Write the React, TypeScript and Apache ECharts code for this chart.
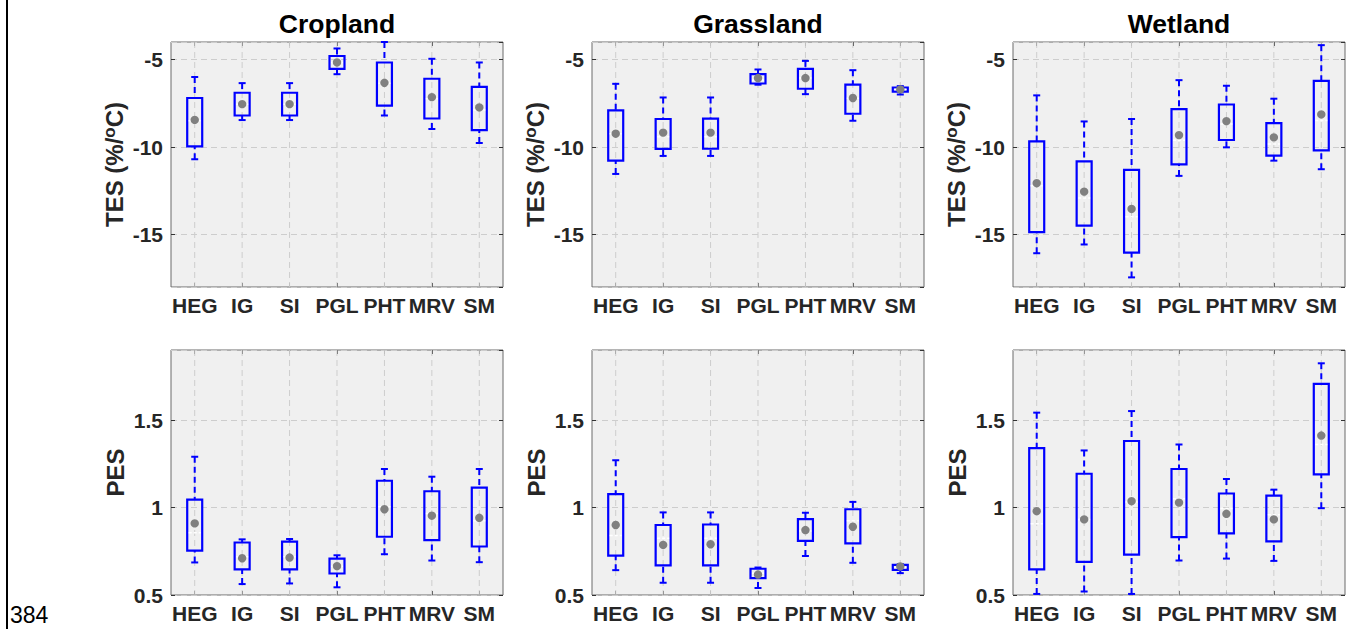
import React, { useEffect, useRef } from 'react';
import * as echarts from 'echarts';

const categories = ['HEG', 'IG', 'SI', 'PGL', 'PHT', 'MRV', 'SM'];
const titles = ['Cropland', 'Grassland', 'Wetland'];

// each row: [min, q1, median, q3, max, mean]
const croplandTES = [
  [-10.7, -9.96, -8.5, -7.2, -6.0, -8.45],
  [-8.46, -8.2, -7.55, -6.9, -6.35, -7.55],
  [-8.46, -8.2, -7.55, -6.9, -6.35, -7.55],
  [-5.84, -5.53, -5.17, -4.8, -4.37, -5.17],
  [-8.2, -7.64, -6.35, -5.17, -4.0, -6.33],
  [-8.97, -8.37, -7.24, -6.1, -4.96, -7.15],
  [-9.77, -9.03, -7.89, -6.56, -5.17, -7.74],
];
const grasslandTES = [
  [-11.54, -10.78, -9.24, -7.91, -6.39, -9.24],
  [-10.51, -10.11, -9.41, -8.4, -7.17, -9.18],
  [-10.51, -10.1, -9.41, -8.38, -7.17, -9.18],
  [-6.44, -6.37, -6.18, -5.84, -5.57, -6.06],
  [-6.98, -6.67, -6.06, -5.53, -5.08, -6.06],
  [-8.5, -8.1, -7.22, -6.44, -5.61, -7.2],
  [-7.0, -6.83, -6.71, -6.6, -6.52, -6.71],
];
const wetlandTES = [
  [-16.07, -14.87, -12.22, -9.68, -7.05, -12.07],
  [-15.57, -14.49, -12.91, -10.82, -8.54, -12.55],
  [-17.45, -16.03, -13.99, -11.31, -8.4, -13.54],
  [-11.65, -10.99, -9.62, -7.83, -6.18, -9.32],
  [-10.02, -9.6, -8.69, -7.57, -6.5, -8.52],
  [-10.78, -10.49, -9.83, -8.63, -7.24, -9.45],
  [-11.27, -10.19, -8.48, -6.22, -4.18, -8.14],
];
const croplandPES = [
  [0.686, 0.754, 0.856, 1.045, 1.29, 0.909],
  [0.5625, 0.646, 0.718, 0.8, 0.818, 0.71],
  [0.566, 0.646, 0.718, 0.805, 0.82, 0.714],
  [0.544, 0.623, 0.665, 0.708, 0.727, 0.665],
  [0.733, 0.833, 1.004, 1.153, 1.22, 0.99],
  [0.697, 0.814, 0.966, 1.093, 1.176, 0.953],
  [0.6875, 0.777, 0.924, 1.114, 1.22, 0.941],
];
const grasslandPES = [
  [0.642, 0.725, 0.84, 1.076, 1.27, 0.9],
  [0.57, 0.669, 0.824, 0.9, 0.972, 0.786],
  [0.57, 0.669, 0.824, 0.903, 0.972, 0.79],
  [0.54, 0.597, 0.625, 0.65, 0.657, 0.617],
  [0.723, 0.809, 0.866, 0.934, 0.97, 0.871],
  [0.684, 0.795, 0.924, 0.99, 1.032, 0.89],
  [0.625, 0.644, 0.657, 0.672, 0.676, 0.663],
];
const wetlandPES = [
  [0.506, 0.646, 0.907, 1.339, 1.542, 0.979],
  [0.52, 0.689, 0.932, 1.193, 1.326, 0.932],
  [0.506, 0.731, 1.032, 1.38, 1.551, 1.036],
  [0.697, 0.831, 1.05, 1.22, 1.36, 1.028],
  [0.708, 0.852, 0.994, 1.08, 1.163, 0.964],
  [0.695, 0.807, 0.958, 1.068, 1.102, 0.932],
  [0.996, 1.189, 1.36, 1.706, 1.824, 1.411],
];

const tesRange = [-18, -4];
const pesRange = [0.5, 1.9];
const pageNumber = '384';

const FONT = '"Liberation Sans", Arial, sans-serif';
const BLUE = '#0000ff';
const GRIDC = '#cdcdcd';
const TXT = '#262626';

const colLeft = [171, 592, 1013];
const rowTop = [42, 350];
const plotW = 332;
const plotH = 245;

const panels = [
  { data: croplandTES, range: tesRange, tes: true },
  { data: grasslandTES, range: tesRange, tes: true },
  { data: wetlandTES, range: tesRange, tes: true },
  { data: croplandPES, range: pesRange, tes: false },
  { data: grasslandPES, range: pesRange, tes: false },
  { data: wetlandPES, range: pesRange, tes: false },
];

function buildOption() {
  const grid: any[] = [];
  const xAxis: any[] = [];
  const yAxis: any[] = [];
  const series: any[] = [];

  panels.forEach((p, k) => {
    const r = Math.floor(k / 3);
    const c = k % 3;
    grid.push({
      left: colLeft[c],
      top: rowTop[r],
      width: plotW,
      height: plotH,
      show: true,
      backgroundColor: '#f0f0f0',
      borderColor: '#6a6a6a',
      borderWidth: 1,
    });
    xAxis.push({
      type: 'category',
      gridIndex: k,
      data: categories,
      position: 'bottom',
      axisLine: { show: false },
      axisTick: { show: true, inside: true, alignWithLabel: true, length: 4, lineStyle: { color: '#333' } },
      axisLabel: {
        interval: 0,
        margin: 8,
        fontSize: 21,
        fontWeight: 'bold',
        fontFamily: FONT,
        color: TXT,
      },
      splitLine: { show: false },
    });
    xAxis.push({
      type: 'category',
      gridIndex: k,
      data: categories,
      position: 'top',
      axisLine: { show: false },
      axisTick: { show: true, inside: true, alignWithLabel: true, length: 4, lineStyle: { color: '#333' } },
      axisLabel: { show: false },
      splitLine: { show: false },
    });
    const yname = p.tes ? '{a|TES (%/}{s|o}{a|C)}' : '{a|PES}';
    yAxis.push({
      type: 'value',
      gridIndex: k,
      min: p.range[0],
      max: p.range[1],
      splitNumber: 3,
      position: 'left',
      name: yname,
      nameLocation: 'middle',
      nameRotate: 90,
      nameGap: 44,
      nameTextStyle: {
        rich: {
          a: { fontSize: 24, fontWeight: 'bold', fontFamily: FONT, color: TXT },
          s: { fontSize: 17, fontWeight: 'bold', fontFamily: FONT, color: TXT, verticalAlign: 'top', lineHeight: 26 },
        },
      },
      axisLine: { show: false },
      axisTick: { show: true, inside: true, length: 4, lineStyle: { color: '#333' } },
      axisLabel: {
        margin: 8,
        fontSize: 21,
        fontWeight: 'bold',
        fontFamily: FONT,
        color: TXT,
        showMaxLabel: false,
        showMinLabel: !p.tes,
      },
      splitLine: { show: true, lineStyle: { color: GRIDC, type: [6, 4], width: 1 } },
    });
    yAxis.push({
      type: 'value',
      gridIndex: k,
      min: p.range[0],
      max: p.range[1],
      splitNumber: 3,
      position: 'right',
      axisLine: { show: false },
      axisTick: { show: true, inside: true, length: 4, lineStyle: { color: '#333' } },
      axisLabel: { show: false },
      splitLine: { show: false },
    });

    // vertical dashed grid lines at category centres
    series.push({
      type: 'custom',
      xAxisIndex: 2 * k,
      yAxisIndex: 2 * k,
      silent: true,
      z: 1,
      encode: { x: 0, y: 1 },
      data: categories.map((_, i) => [i, p.range[0]]),
      renderItem: (params: any, api: any) => {
        const cs = params.coordSys;
        const x = api.coord([api.value(0), api.value(1)])[0];
        return {
          type: 'line',
          shape: { x1: x, y1: cs.y, x2: x, y2: cs.y + cs.height },
          style: { stroke: GRIDC, lineWidth: 1, lineDash: [6, 4] },
        };
      },
    });

    // box plots
    series.push({
      type: 'custom',
      xAxisIndex: 2 * k,
      yAxisIndex: 2 * k,
      z: 3,
      encode: { x: 0, y: [1, 2, 3, 4, 5, 6] },
      data: p.data.map((row, i) => [i, ...row]),
      renderItem: (params: any, api: any) => {
        const i = api.value(0);
        const pt = (v: number) => api.coord([i, v]);
        const [x, yMin] = pt(api.value(1));
        const yQ1 = pt(api.value(2))[1];
        const yMed = pt(api.value(3))[1];
        const yQ3 = pt(api.value(4))[1];
        const yMax = pt(api.value(5))[1];
        const yMean = pt(api.value(6))[1];
        const half = 7.5;
        const cap = 3.5;
        const wStyle = { stroke: BLUE, lineWidth: 2, lineDash: [6, 4] };
        const sStyle = { stroke: BLUE, lineWidth: 2 };
        return {
          type: 'group',
          children: [
            { type: 'line', shape: { x1: x, y1: yMax, x2: x, y2: yQ3 }, style: wStyle },
            { type: 'line', shape: { x1: x, y1: yMin, x2: x, y2: yQ1 }, style: wStyle },
            { type: 'line', shape: { x1: x - cap, y1: yMax, x2: x + cap, y2: yMax }, style: sStyle },
            { type: 'line', shape: { x1: x - cap, y1: yMin, x2: x + cap, y2: yMin }, style: sStyle },
            {
              type: 'rect',
              shape: { x: x - half, y: yQ3, width: half * 2, height: yQ1 - yQ3 },
              style: { fill: 'none', stroke: BLUE, lineWidth: 2.2 },
            },
            {
              type: 'line',
              shape: { x1: x - half + 1.5, y1: yMed, x2: x + half - 1.5, y2: yMed },
              style: { stroke: '#ffffff', lineWidth: 1.5, lineDash: [3, 2] },
            },
            { type: 'circle', shape: { cx: x, cy: yMean, r: 4.2 }, style: { fill: '#808080' } },
          ],
        };
      },
    });
  });

  const graphic: any[] = [
    { type: 'rect', shape: { x: 6, y: 0, width: 2, height: 629 }, style: { fill: '#000' }, silent: true },
    {
      type: 'text',
      x: 10,
      y: 615,
      style: { text: pageNumber, fontSize: 23, fontFamily: FONT, fill: '#000', textAlign: 'left', textVerticalAlign: 'middle' },
    },
  ];
  titles.forEach((t, c) => {
    graphic.push({
      type: 'text',
      x: colLeft[c] + plotW / 2,
      y: 24,
      style: {
        text: t,
        fontSize: 26.5,
        fontWeight: 'bold',
        fontFamily: FONT,
        fill: '#000',
        textAlign: 'center',
        textVerticalAlign: 'middle',
      },
    });
  });

  return { animation: false, backgroundColor: '#ffffff', grid, xAxis, yAxis, series, graphic };
}

export default function App() {
  const ref = useRef<HTMLDivElement>(null);
  useEffect(() => {
    if (!ref.current) return;
    const chart = echarts.init(ref.current, undefined, { renderer: 'svg' });
    chart.setOption(buildOption() as any);
    return () => chart.dispose();
  }, []);
  return (
    <div
      ref={ref}
      style={{ position: 'absolute', left: 0, top: 0, width: 1355, height: 629, background: '#fff' }}
    />
  );
}
